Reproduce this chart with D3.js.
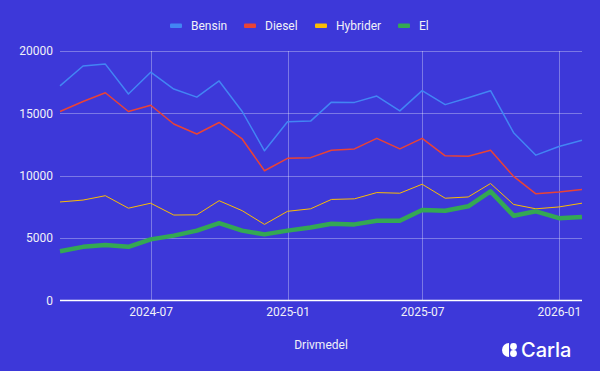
<!DOCTYPE html>
<html><head><meta charset="utf-8">
<script src="https://cdn.jsdelivr.net/npm/d3@7"></script>
<style>html,body{margin:0;padding:0;background:#3d38d9;}svg{display:block;font-family:Roboto,Arial,sans-serif;}</style>
</head><body><svg id="c" width="600" height="371"></svg>
<script>
const months = ["2024-03","2024-04","2024-05","2024-06","2024-07","2024-08","2024-09","2024-10","2024-11","2024-12","2025-01","2025-02","2025-03","2025-04","2025-05","2025-06","2025-07","2025-08","2025-09","2025-10","2025-11","2025-12","2026-01","2026-02"];
const bensin = [17200,18800,18950,16550,18300,16950,16300,17600,15150,12000,14330,14380,15900,15880,16390,15200,16820,15700,16250,16820,13450,11650,12350,12850];
const diesel = [15150,15950,16650,15150,15650,14150,13350,14270,12950,10400,11400,11450,12050,12150,13000,12150,13000,11600,11570,12050,9950,8550,8700,8900];
const hybrider = [7900,8050,8400,7400,7800,6850,6870,8000,7200,6100,7150,7350,8100,8150,8650,8600,9320,8200,8300,9380,7700,7350,7500,7800];
const el = [3950,4300,4450,4300,4900,5200,5600,6200,5600,5300,5600,5850,6150,6100,6400,6400,7250,7200,7550,8750,6800,7150,6600,6700];
const yTicks = [0,5000,10000,15000,20000];
const xTicks = ["2024-07","2025-01","2025-07","2026-01"];
const seriesNames = ["Bensin","Diesel","Hybrider","El"];
const seriesColors = ["#4285f4","#ea4335","#fbbc04","#34a853"];
const seriesWidths = [1.5,1.5,1,4.5];
const seriesData = [bensin,diesel,hybrider,el];

const parse = d3.utcParse("%Y-%m");
const svg = d3.select("#c");
const L=60,R=582,T=51,B=300.5;
const x = d3.scaleUtc().domain([parse(months[0]),parse(months[months.length-1])]).range([L,R]);
const y = d3.scaleLinear().domain([0,20000]).range([B,T]);

const grid = svg.append("g");
grid.selectAll("line.h").data(yTicks.slice(1)).join("line")
  .attr("x1",L).attr("x2",R).attr("y1",d=>Math.round(y(d))+0.5).attr("y2",d=>Math.round(y(d))+0.5)
  .attr("stroke","rgba(255,255,255,0.32)").attr("stroke-width",1);
grid.selectAll("line.v").data(xTicks).join("line")
  .attr("x1",d=>Math.round(x(parse(d)))+0.5).attr("x2",d=>Math.round(x(parse(d)))+0.5).attr("y1",T).attr("y2",B)
  .attr("stroke","rgba(255,255,255,0.32)").attr("stroke-width",1);

const yAxis = d3.axisLeft(y).tickValues(yTicks).tickSize(0).tickPadding(7).tickFormat(d3.format("d"));
const gy = svg.append("g").attr("transform",`translate(${L},0)`).call(yAxis);
gy.select(".domain").remove();
gy.selectAll("text").attr("fill","#f0f0f8").attr("font-size",12).attr("font-family","Roboto,Arial,sans-serif");

const xAxis = d3.axisBottom(x).tickValues(xTicks.map(parse)).tickSize(0).tickPadding(7).tickFormat(d3.utcFormat("%Y-%m"));
const gx = svg.append("g").attr("transform",`translate(0,${B})`).call(xAxis);
gx.select(".domain").remove();
gx.selectAll("text").attr("fill","#f0f0f8").attr("font-size",12).attr("font-family","Roboto,Arial,sans-serif");

svg.append("line").attr("x1",L).attr("x2",R).attr("y1",B).attr("y2",B).attr("stroke","#ffffff").attr("stroke-width",1.5);

const line = d3.line().x((d,i)=>x(parse(months[i]))).y(d=>y(d));
seriesData.forEach((s,k)=>{
  svg.append("path").datum(s).attr("d",line).attr("fill","none")
    .attr("stroke",seriesColors[k]).attr("stroke-width",seriesWidths[k]).attr("stroke-linejoin","round");
});

const legendX = [170,244,315,398];
const lg = svg.append("g");
seriesNames.forEach((n,k)=>{
  lg.append("rect").attr("x",legendX[k]).attr("y",23.5).attr("width",12).attr("height",4.5).attr("rx",1).attr("fill",seriesColors[k]);
  lg.append("text").attr("x",legendX[k]+21).attr("y",30).attr("fill","#f0f0f8").attr("font-size",12).text(n);
});

svg.append("text").attr("x",321).attr("y",349).attr("text-anchor","middle").attr("fill","#f0f0f8").attr("font-size",12).text("Drivmedel");

const logo = svg.append("g").attr("fill","#ffffff");
logo.append("path").attr("d","M509,343 A7,7 0 0 0 509,357 Z");
logo.append("circle").attr("cx",513.5).attr("cy",346.5).attr("r",3.4);
logo.append("circle").attr("cx",513.5).attr("cy",353.5).attr("r",3.4);
logo.append("text").attr("x",521).attr("y",357).attr("font-size",20).attr("font-family","Inter,Roboto,sans-serif").attr("font-weight",500).text("Carla");
</script></body></html>
